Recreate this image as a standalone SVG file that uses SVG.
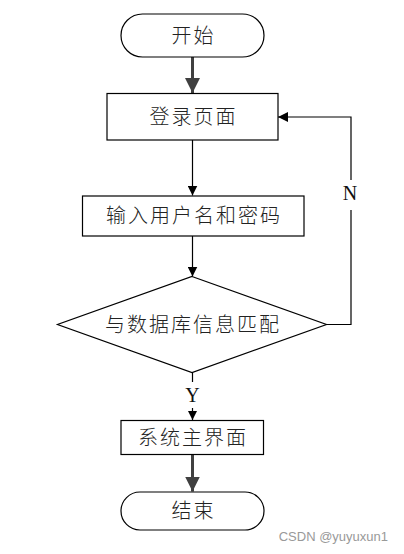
<svg xmlns="http://www.w3.org/2000/svg" width="404" height="554" viewBox="0 0 404 554">
<style>
.shape{fill:#fff;stroke:#000;stroke-width:1.2}
.lbl{font-family:"Liberation Serif","Noto Sans CJK SC",serif;font-size:20px;font-weight:300;fill:#222;text-anchor:middle;letter-spacing:2px}
.yn{font-family:"Liberation Serif",serif;font-size:20px;fill:#111;text-anchor:middle}
.thin{fill:none;stroke:#000;stroke-width:1.2}
.thick{fill:none;stroke:#404040;stroke-width:3}
</style>
<defs>
<marker id="ah" viewBox="0 0 10 10" refX="10" refY="5" markerWidth="10" markerHeight="10" markerUnits="userSpaceOnUse" orient="auto"><path d="M0,0 L10,5 L0,10 z" fill="#000"/></marker>
<marker id="ahs" viewBox="0 0 10 10" refX="10" refY="5" markerWidth="9" markerHeight="9" markerUnits="userSpaceOnUse" orient="auto"><path d="M0,0 L10,5 L0,10 z" fill="#000"/></marker>
<marker id="ahb" viewBox="0 0 10 10" refX="10" refY="5" markerWidth="15" markerHeight="15" markerUnits="userSpaceOnUse" orient="auto"><path d="M0,0 L10,5 L0,10 z" fill="#404040"/></marker>
</defs>
<g id="connectors">
<path class="thick" d="M192.5,57 V93" marker-end="url(#ahb)"/>
<path class="thin" d="M192.5,140 V195.5" marker-end="url(#ah)"/>
<path class="thin" d="M192.5,236 V276.5" marker-end="url(#ah)"/>
<path class="thin" d="M326.5,324.5 H351 V210"/>
<path class="thin" d="M351,180 V117 H278" marker-end="url(#ah)"/>
<text class="yn" x="350" y="200">N</text>
<path class="thin" d="M192.5,372.5 V382"/>
<text class="yn" x="192.5" y="402">Y</text>
<path class="thin" d="M192.5,408 V420" marker-end="url(#ahs)"/>
<path class="thick" d="M192.5,454 V491.5" marker-end="url(#ahb)"/>
</g>
<g id="start">
<rect class="shape" x="121" y="14" width="143" height="43" rx="21.5" ry="21.5"/>
<text class="lbl" x="193.5" y="43">开始</text>
</g>
<g id="login">
<rect class="shape" x="107" y="93.5" width="171" height="46.5"/>
<text class="lbl" x="193.5" y="124">登录页面</text>
</g>
<g id="input">
<rect class="shape" x="82.5" y="196" width="221.5" height="40"/>
<text class="lbl" x="194" y="223">输入用户名和密码</text>
</g>
<g id="match">
<polygon class="shape" points="192,276.5 326.5,324.5 192,372.5 57.5,324.5"/>
<text class="lbl" x="193" y="332">与数据库信息匹配</text>
</g>
<g id="main">
<rect class="shape" x="121" y="420.5" width="142.5" height="34"/>
<text class="lbl" x="193" y="444.5">系统主界面</text>
</g>
<g id="end">
<rect class="shape" x="121" y="492" width="143" height="38" rx="19" ry="19"/>
<text class="lbl" x="193.5" y="518">结束</text>
</g>
<text x="388" y="541" font-family="Liberation Sans,sans-serif" font-size="13" fill="#999" text-anchor="end">CSDN @yuyuxun1</text>
</svg>
